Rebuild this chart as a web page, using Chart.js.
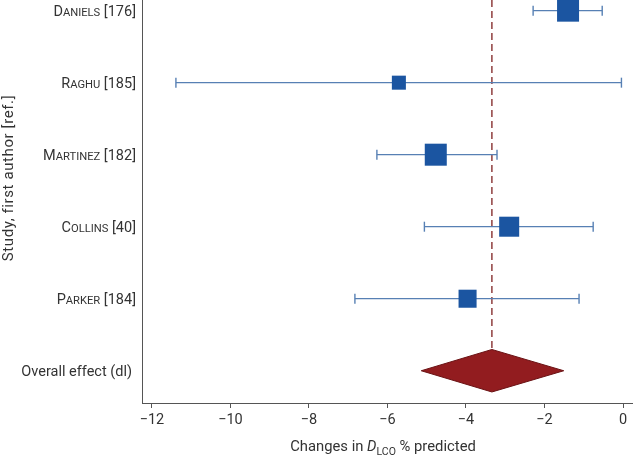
<!DOCTYPE html>
<html>
<head>
<meta charset="utf-8">
<script src="https://cdn.jsdelivr.net/npm/chart.js@4/dist/chart.umd.min.js"></script>
<style>
  html, body { margin: 0; padding: 0; background: #fff; }
  #wrap { width: 640px; height: 459px; }
</style>
</head>
<body>
<div id="wrap"><canvas id="c" width="640" height="459"></canvas></div>
<script>
// ---- data ----
const authors = ['Daniels', 'Raghu', 'Martinez', 'Collins', 'Parker'];
const refs = [176, 185, 182, 40, 184];
const estimates = [-1.40, -5.71, -4.77, -2.90, -3.96];
const lowerCI = [-2.29, -11.39, -6.27, -5.06, -6.83];
const upperCI = [-0.53, -0.04, -3.21, -0.76, -1.12];
const weights = [25.6, 10.4, 25.6, 21.2, 17.2];
const overallLabel = 'Overall effect (dl)';
const overallEstimate = -3.34;
const overallLower = -5.14;
const overallUpper = -1.51;
const xTicks = [-12, -10, -8, -6, -4, -2, 0];
const yTitle = 'Study, first author [ref.]';

// ---- styling ----
const FONT = 'Roboto, "DejaVu Sans", sans-serif';
const TEXT = '#333333';
const AXIS = '#555555';
const BLUE = '#1b55a1';
const WHISKER = '#5780b4';
const RED = '#921c1f';
const RED_EDGE = '#6a1214';
const DASH = '#7e2020';

const n = authors.length;
const rowY = i => n - i + 1;      // studies top to bottom, overall at 1
const overallY = 1;
const diamondHalf = 0.295;
const yMin = 0.552, yMax = 6.148;
const xMin = -12.254, xMax = 0.229;
const sideScale = 4.35;

const datasets = [];

// squares
datasets.push({
  type: 'scatter',
  data: estimates.map((v, i) => ({ x: v, y: rowY(i) })),
  pointStyle: 'rect',
  pointRadius: weights.map(w => sideScale * Math.sqrt(w) / Math.SQRT2),
  pointBackgroundColor: BLUE,
  pointBorderColor: BLUE,
  pointBorderWidth: 0,
  order: 0
});

// whiskers
authors.forEach((a, i) => {
  datasets.push({
    type: 'line',
    data: [{ x: lowerCI[i], y: rowY(i) }, { x: upperCI[i], y: rowY(i) }],
    borderColor: WHISKER,
    borderWidth: 1.2,
    pointStyle: 'line',
    rotation: 90,
    pointRadius: 5,
    pointBorderColor: WHISKER,
    pointBorderWidth: 1.4,
    fill: false,
    order: 1
  });
});

// dashed overall line
datasets.push({
  type: 'line',
  data: [{ x: overallEstimate, y: yMax }, { x: overallEstimate, y: overallY + diamondHalf }],
  borderColor: DASH,
  borderWidth: 1.3,
  borderDash: [7, 4],
  pointRadius: 0,
  fill: false,
  order: 2
});

// diamond
datasets.push({
  type: 'line',
  data: [
    { x: overallLower, y: overallY },
    { x: overallEstimate, y: overallY + diamondHalf },
    { x: overallUpper, y: overallY },
    { x: overallEstimate, y: overallY - diamondHalf },
    { x: overallLower, y: overallY }
  ],
  borderColor: RED_EDGE,
  borderWidth: 1,
  backgroundColor: RED,
  fill: 'shape',
  tension: 0,
  pointRadius: 0,
  order: 0
});

const fmt = v => (v < 0 ? '\u2212' + Math.abs(v) : String(v));

const labelPlugin = {
  id: 'labels',
  afterDraw(chart) {
    const ctx = chart.ctx;
    const ys = chart.scales.y;
    const area = chart.chartArea;
    ctx.save();
    ctx.fillStyle = TEXT;
    ctx.textBaseline = 'alphabetic';
    const right = area.left - 6;
    const big = '14.5px ' + FONT;
    const small = '11.2px ' + FONT;
    authors.forEach((a, i) => {
      const parts = [[a[0], big], [a.slice(1).toUpperCase(), small], [' [' + refs[i] + ']', big]];
      let total = 0;
      parts.forEach(p => { ctx.font = p[1]; total += ctx.measureText(p[0]).width; });
      let x = right - total;
      const y = ys.getPixelForValue(rowY(i)) + 5;
      ctx.textAlign = 'left';
      parts.forEach(p => { ctx.font = p[1]; ctx.fillText(p[0], x, y); x += ctx.measureText(p[0]).width; });
    });
    ctx.font = big;
    ctx.textAlign = 'right';
    ctx.fillText(overallLabel, right - 4, ys.getPixelForValue(overallY) + 5);

    // y title
    ctx.save();
    ctx.translate(13, 178);
    ctx.rotate(-Math.PI / 2);
    ctx.textAlign = 'center';
    ctx.font = '15px ' + FONT;
    ctx.letterSpacing = '0.6px';
    ctx.fillText(yTitle, 0, 0);
    ctx.restore();

    // x title with italic D and subscript
    const parts = [
      ['Changes in ', '14.8px ' + FONT, 0],
      ['D', 'italic 14.8px ' + FONT, 0],
      ['LCO', '10.5px ' + FONT, 4],
      [' % predicted', '14.8px ' + FONT, 0]
    ];
    let total = 0;
    parts.forEach(p => { ctx.font = p[1]; total += ctx.measureText(p[0]).width; });
    let x = (area.left + area.right) / 2 - total / 2 - 4;
    const by = 451;
    ctx.textAlign = 'left';
    parts.forEach(p => { ctx.font = p[1]; ctx.fillText(p[0], x, by + p[2]); x += ctx.measureText(p[0]).width; });
    ctx.restore();
  }
};

new Chart(document.getElementById('c'), {
  type: 'scatter',
  data: { datasets },
  options: {
    responsive: false,
    animation: false,
    devicePixelRatio: 1,
    layout: { autoPadding: false, padding: { left: 0, right: 8, top: 0, bottom: 0 } },
    plugins: { legend: { display: false }, tooltip: { enabled: false } },
    scales: {
      x: {
        type: 'linear',
        min: xMin,
        max: xMax,
        afterBuildTicks: s => { s.ticks = xTicks.map(v => ({ value: v })); },
        afterFit: s => { s.height = 56; },
        ticks: {
          callback: v => fmt(v),
          color: TEXT,
          font: { family: FONT, size: 14.5 },
          padding: 4,
          maxRotation: 0,
          autoSkip: false
        },
        grid: { display: true, drawOnChartArea: false, drawTicks: true, tickLength: 5, color: AXIS, lineWidth: 1 },
        border: { display: true, color: AXIS, width: 1 }
      },
      y: {
        type: 'linear',
        min: yMin,
        max: yMax,
        afterFit: s => { s.width = 142; },
        ticks: { display: false },
        grid: { display: false, drawTicks: false },
        border: { display: true, color: AXIS, width: 1 }
      }
    }
  },
  plugins: [labelPlugin]
});
</script>
</body>
</html>
